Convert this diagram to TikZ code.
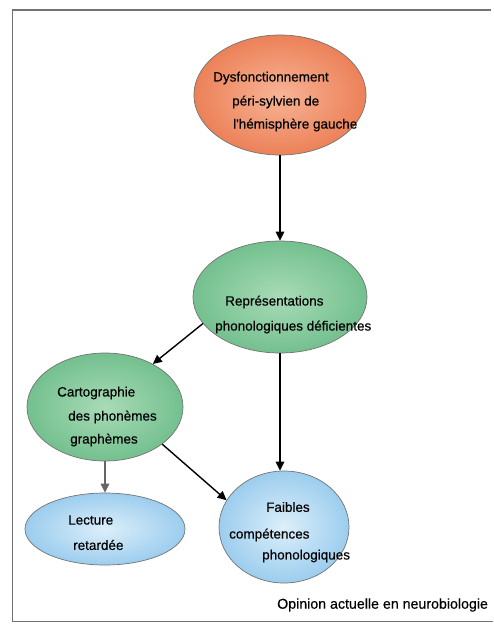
\documentclass[tikz,border=0pt]{standalone}
\usepackage{fontspec}
\setmainfont{Liberation Sans}
\newfontfamily\heavysans[FakeBold=0.4]{Liberation Sans}
\usetikzlibrary{shapes.geometric,arrows.meta}
\definecolor{orOut}{HTML}{EC8158}
\definecolor{orIn}{HTML}{F7B496}
\definecolor{grOut}{HTML}{74C08F}
\definecolor{grIn}{HTML}{A8DBB6}
\definecolor{blOut}{HTML}{9CCDEE}
\definecolor{blIn}{HTML}{DCEFFA}
\begin{document}
\begin{tikzpicture}[x=1pt,y=-1pt,
  blob/.style={ellipse,draw=black!55,line width=0.7pt,inner sep=0pt,shading=radial},
  orblob/.style={blob,inner color=orIn,outer color=orOut},
  grblob/.style={blob,inner color=grIn,outer color=grOut},
  blblob/.style={blob,inner color=blIn,outer color=blOut},
  txt/.style={font=\heavysans\fontsize{13.5}{15}\selectfont,inner sep=0pt,anchor=west,text=black},
  arr/.style={line width=1.4pt,-{Triangle[length=9pt,width=8.5pt]}},
  garr/.style={arr,draw=black!60,-{Triangle[length=9pt,width=8.5pt]}}
]
\useasboundingbox (0,0) rectangle (493,624);
\fill[white] (0,0) rectangle (493,624);
\draw[black!55,line width=1.6pt] (491,10) -- (12.5,10) -- (12.5,621.5) -- (493,621.5);

% ellipses
\node[orblob,minimum width=172pt,minimum height=120pt] (top) at (280,95) {};
\node[grblob,minimum width=174pt,minimum height=112pt] (rep) at (280,297) {};
\node[grblob,minimum width=156pt,minimum height=108pt] (carto) at (105,407) {};
\node[blblob,minimum width=160pt,minimum height=72pt] (lect) at (105,529) {};
\node[blblob,minimum width=130pt,minimum height=112pt] (faib) at (284,527) {};

% texts
\node[txt] (t1a) at (213,78) {Dysfonctionnement};
\node[txt] (t1b) at (232,102) {péri-sylvien de};
\node[txt] (t1c) at (233,125) {l'hémisphère gauche};

\node[txt] (t2a) at (225,302) {Représentations};
\node[txt] (t2b) at (215,327) {phonologiques déficientes};

\node[txt] (t3a) at (57,393) {Cartographie};
\node[txt] (t3b) at (68,417) {des phonèmes};
\node[txt] (t3c) at (70,440) {graphèmes};

\node[txt] (t4a) at (68,520) {Lecture};
\node[txt] (t4b) at (73,545) {retardée};

\node[txt] (t5a) at (266,507) {Faibles};
\node[txt] (t5b) at (229,535) {compétences};
\node[txt] (t5c) at (262,556) {phonologiques};

\node[txt,font=\heavysans\fontsize{14.2}{16}\selectfont] (cap) at (277,605) {Opinion actuelle en neurobiologie};

% connectors
\draw[arr] (top.south) -- (rep.north);
\draw[arr] (rep.199) -- (carto.42);
\draw[arr] (rep.south) -- (rep.south |- faib.north);
\draw[arr] (carto.-33) -- (faib.155);
\draw[garr] (carto.south) -- (lect.north);
\end{tikzpicture}
\end{document}
